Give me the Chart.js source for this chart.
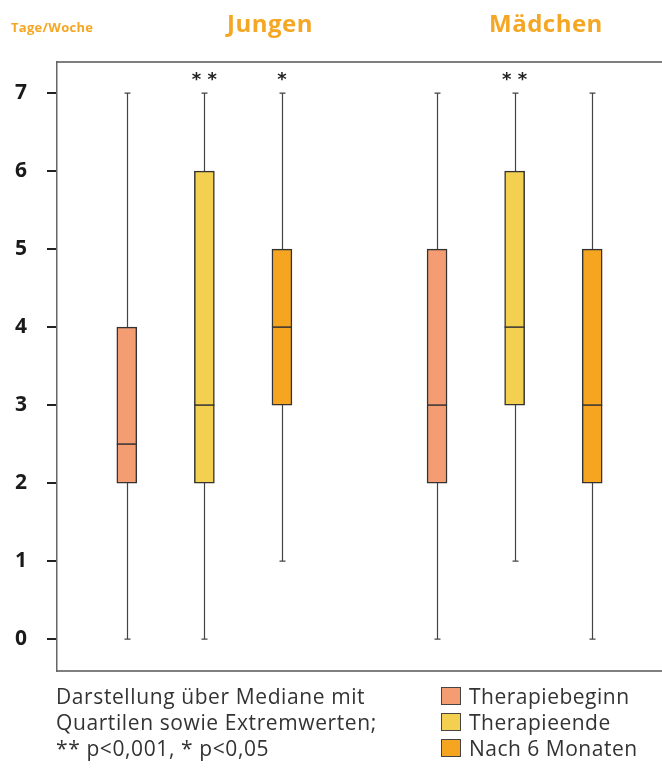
<!DOCTYPE html>
<html>
<head>
<meta charset="utf-8">
<script src="https://cdn.jsdelivr.net/npm/chart.js@4"></script>
<style>
  body { margin: 0; background: #fff; }
  #wrap { position: relative; width: 662px; height: 769px; font-family: 'Open Sans', sans-serif; }
  canvas { position: absolute; left: 0; top: 0; }
  .lbl { position: absolute; white-space: nowrap; }
  .unit { left: 11px; top: 18px; font-size: 13px; letter-spacing: 0.3px; font-weight: 700; color: #F5A623; }
  .grp { top: 6px; font-size: 24px; letter-spacing: 0.5px; font-weight: 700; color: #F5A623; }
  .note { left: 56px; top: 683px; font-size: 21px; letter-spacing: 0.6px; line-height: 26px; color: #333; }
  .leg { left: 441px; top: 683px; font-size: 21px; letter-spacing: 0.5px; line-height: 26px; color: #333; }
  .leg div { display: flex; align-items: center; }
  .leg span.sw { width: 20px; height: 18px; border: 1.5px solid #444; margin-right: 8px; box-sizing: border-box; }
</style>
</head>
<body>
<div id="wrap">
  <canvas id="chart" width="662" height="769"></canvas>
  <div class="lbl unit">Tage/Woche</div>
  <div class="lbl grp" style="left:227px">Jungen</div>
  <div class="lbl grp" style="left:489px">Mädchen</div>
  <div class="lbl note">Darstellung über Mediane mit<br>Quartilen sowie Extremwerten;<br>** p&lt;0,001, * p&lt;0,05</div>
  <div class="lbl leg" id="legend"></div>
</div>
<script>
// data
var groups = ['Jungen', 'Mädchen'];
var series = ['Therapiebeginn', 'Therapieende', 'Nach 6 Monaten'];
var colors = ['#F49C72', '#F3D050', '#F5A51F'];

// one entry per box: Jungen x3, then Mädchen x3
var mins    = [0, 0, 1,   0, 1, 0];
var q1s     = [2, 2, 3,   2, 3, 2];
var medians = [2.5, 3, 4, 3, 4, 3];
var q3s     = [4, 6, 5,   5, 6, 5];
var maxs    = [7, 7, 7,   7, 7, 7];
var stars   = ['', '* *', '*', '', '* *', ''];

var yTicks = [0, 1, 2, 3, 4, 5, 6, 7];

// slot on x axis: groups separated by one empty slot
var slots = [];
var boxColors = [];
groups.forEach(function(g, gi) {
  series.forEach(function(s, si) {
    slots.push(gi * (series.length + 1) + si);
    boxColors.push(colors[si]);
  });
});

var boxData = slots.map(function(x, i) { return { x: x, y: [q1s[i], q3s[i]] }; });

// legend
var leg = document.getElementById('legend');
series.forEach(function(s, i) {
  var row = document.createElement('div');
  row.innerHTML = '<span class="sw" style="background:' + colors[i] + '"></span>' + s;
  leg.appendChild(row);
});

var boxPlugin = {
  id: 'boxParts',
  beforeDatasetsDraw: function(chart) {
    var ctx = chart.ctx, x = chart.scales.x, y = chart.scales.y, a = chart.chartArea;
    ctx.save();
    // frame top + bottom
    ctx.strokeStyle = '#555';
    ctx.lineWidth = 1.5;
    ctx.beginPath();
    ctx.moveTo(a.left, a.top); ctx.lineTo(a.right, a.top);
    ctx.moveTo(a.left, a.bottom); ctx.lineTo(a.right, a.bottom);
    ctx.stroke();
    // whiskers
    ctx.strokeStyle = '#444';
    ctx.lineWidth = 1.2;
    slots.forEach(function(s, i) {
      var px = Math.round(x.getPixelForValue(s)) + 0.5;
      var top = y.getPixelForValue(maxs[i]), bot = y.getPixelForValue(mins[i]);
      ctx.beginPath();
      ctx.moveTo(px, top); ctx.lineTo(px, bot);
      ctx.moveTo(px - 3, top); ctx.lineTo(px + 3, top);
      ctx.moveTo(px - 3, bot); ctx.lineTo(px + 3, bot);
      ctx.stroke();
    });
    ctx.restore();
  },
  afterDatasetsDraw: function(chart) {
    var ctx = chart.ctx, x = chart.scales.x, y = chart.scales.y;
    ctx.save();
    ctx.strokeStyle = '#333';
    ctx.lineWidth = 1.5;
    slots.forEach(function(s, i) {
      var px = x.getPixelForValue(s);
      var py = y.getPixelForValue(medians[i]);
      ctx.beginPath();
      ctx.moveTo(px - 10, py); ctx.lineTo(px + 10, py);
      ctx.stroke();
      if (stars[i]) {
        ctx.fillStyle = '#222';
        ctx.font = 'bold 18px "DejaVu Sans"';
        ctx.textAlign = 'center';
        ctx.textBaseline = 'middle';
        ctx.fillText(stars[i], px, y.getPixelForValue(maxs[i]) - 13);
      }
    });
    ctx.restore();
  }
};

new Chart(document.getElementById('chart').getContext('2d'), {
  type: 'bar',
  data: {
    datasets: [{
      data: boxData,
      backgroundColor: boxColors,
      borderColor: '#333',
      borderWidth: 1.5,
      borderSkipped: false,
      barThickness: 20
    }]
  },
  options: {
    responsive: false,
    animation: false,
    events: [],
    layout: { padding: { left: 0, right: 0, top: 62, bottom: 98 } },
    plugins: { legend: { display: false }, tooltip: { enabled: false } },
    scales: {
      x: { type: 'linear', min: -0.9, max: 6.9, offset: false, display: false },
      y: {
        min: -0.41, max: 7.4,
        afterBuildTicks: function(scale) { scale.ticks = yTicks.map(function(v) { return { value: v }; }); },
        afterFit: function(scale) { scale.width = 57; },
        grid: { drawOnChartArea: false, drawTicks: true, tickLength: 10, color: '#222', lineWidth: 2 },
        border: { display: true, color: '#666', width: 1.5 },
        ticks: { padding: 20, color: '#1a1a1a', font: { family: 'Open Sans', size: 21, weight: 'bold' } }
      }
    }
  },
  plugins: [boxPlugin]
});
</script>
</body>
</html>
